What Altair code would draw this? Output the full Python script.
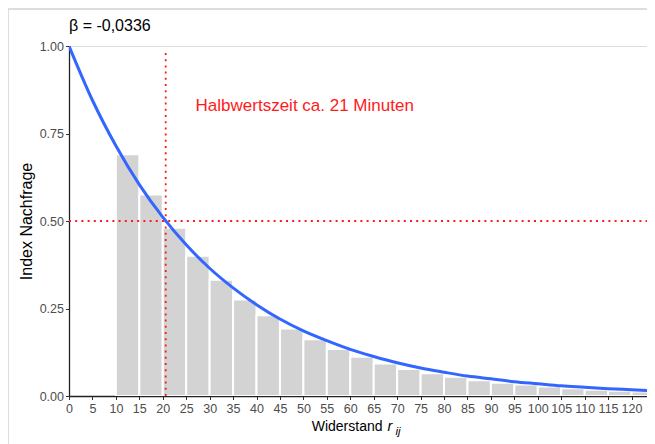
import altair as alt
import pandas as pd

# ---- data ----
bin_start = [10, 15, 20, 25, 30, 35, 40, 45, 50, 55, 60, 65, 70, 75, 80, 85, 90, 95, 100, 105, 110, 115, 120]
bin_width = 5
bar_values = [0.691, 0.576, 0.481, 0.401, 0.332, 0.276, 0.231, 0.193, 0.162, 0.134, 0.112, 0.093,
              0.077, 0.065, 0.055, 0.045, 0.038, 0.033, 0.027, 0.022, 0.018, 0.015, 0.013]

curve_x = [0, 5, 10, 15, 20, 25, 30, 35, 40, 45, 50, 55, 60, 65, 70, 75, 80, 85, 90, 95, 100, 105, 110, 115, 120, 125]
curve_y = [1.0, 0.845, 0.715, 0.604, 0.511, 0.432, 0.365, 0.309, 0.261, 0.220, 0.186, 0.158, 0.133,
           0.113, 0.095, 0.080, 0.068, 0.057, 0.049, 0.041, 0.035, 0.029, 0.025, 0.021, 0.018, 0.015]

x_ticks = list(range(0, 125, 5))
y_ticks = [0.0, 0.25, 0.5, 0.75, 1.0]

half_life_x = 20.63
half_level = 0.5
vline_top = 0.99
title_text = "β = -0,0336"
note_text = "Halbwertszeit ca. 21 Minuten"
note_x = 27
note_y = 0.83

X_MAX = 123.3
W, H = 578, 350
FONT = "Liberation Sans"

bars_df = pd.DataFrame({"start": bin_start,
                        "end": [s + bin_width for s in bin_start],
                        "base": [0.0] * len(bin_start),
                        "value": bar_values})
curve_df = pd.DataFrame({"x": curve_x, "y": curve_y})

xscale = alt.Scale(domain=[0, X_MAX], nice=False, zero=False, padding=0)
yscale = alt.Scale(domain=[0, 1], nice=False, padding=0)

xaxis = alt.Axis(values=x_ticks, labelOverlap=False, title=None, grid=False,
                 format="d", labelFontSize=12.5, labelColor="#4d4d4d", labelPadding=3,
                 tickSize=3.5, tickColor="#333333", domainColor="#222222", domainWidth=1.3,
                 labelFlush=False)
yaxis = alt.Axis(values=y_ticks, title="Index Nachfrage", grid=False, format=".2f",
                 labelFontSize=12.5, labelColor="#4d4d4d", labelPadding=2,
                 tickSize=3.5, tickColor="#333333", domainColor="#222222", domainWidth=1.3,
                 titleFontSize=16, titleFontWeight="normal", titleColor="black", titlePadding=5)


def X(field):
    return alt.X(field, scale=xscale, axis=xaxis)


def Y(field):
    return alt.Y(field, scale=yscale, axis=yaxis)


bars = alt.Chart(bars_df).mark_rect(color="#d3d3d3", stroke="white", strokeWidth=2, clip=True).encode(
    x=X("start:Q"), x2="end:Q", y=Y("base:Q"), y2="value:Q",
)

curve = alt.Chart(curve_df).mark_line(color="#3366FF", strokeWidth=3, interpolate="monotone", clip=True).encode(
    x=X("x:Q"), y=Y("y:Q"),
)

vline = alt.Chart(pd.DataFrame({"x": [half_life_x], "y": [0.0], "y2": [vline_top]})).mark_rule(
    color="#ff1a1a", strokeDash=[2, 4.2], strokeWidth=1.8).encode(
    x=X("x:Q"), y=Y("y:Q"), y2="y2:Q")

hline = alt.Chart(pd.DataFrame({"x": [0.0], "x2": [X_MAX], "y": [half_level]})).mark_rule(
    color="#ff1a1a", strokeDash=[2, 4.2], strokeWidth=1.8).encode(
    x=X("x:Q"), x2="x2:Q", y=Y("y:Q"))

note = alt.Chart(pd.DataFrame({"x": [note_x], "y": [note_y], "t": [note_text]})).mark_text(
    color="#ff1a1a", fontSize=17, align="left", baseline="middle", font=FONT).encode(
    x=X("x:Q"), y=Y("y:Q"), text="t:N")

one = alt.Data(values=[{}])
title = alt.Chart(one).mark_text(fontSize=16, align="left", baseline="middle", color="black", font=FONT).encode(
    x=alt.value(0), y=alt.value(-20), text=alt.value(title_text))

xt_main = alt.Chart(one).mark_text(fontSize=14, align="right", baseline="alphabetic", color="black", font=FONT).encode(
    x=alt.value(313.5), y=alt.value(385), text=alt.value("Widerstand"))
xt_r = alt.Chart(one).mark_text(fontSize=14.5, align="left", baseline="alphabetic", fontStyle="italic", color="black", font=FONT).encode(
    x=alt.value(318.5), y=alt.value(385), text=alt.value("r"))
xt_ij = alt.Chart(one).mark_text(fontSize=11.5, align="left", baseline="alphabetic", fontStyle="italic", color="black", font=FONT).encode(
    x=alt.value(326.5), y=alt.value(389), text=alt.value("ij"))

frame = alt.Chart(one).mark_rect(fillOpacity=0, stroke="#dddddd", strokeWidth=2).encode(
    x=alt.value(-61), x2=alt.value(W + 40), y=alt.value(-37), y2=alt.value(H + 60))

chart = alt.layer(frame, bars, hline, vline, curve, note, title, xt_main, xt_r, xt_ij).properties(
    width=W, height=H,
    autosize=alt.AutoSizeParams(type="none"),
    padding={"left": 61, "top": 38, "right": 0, "bottom": 48},
    background="white",
).configure_view(stroke=None).configure(font=FONT)

chart.save("out.html", embed_options={"renderer": "svg", "actions": False})
